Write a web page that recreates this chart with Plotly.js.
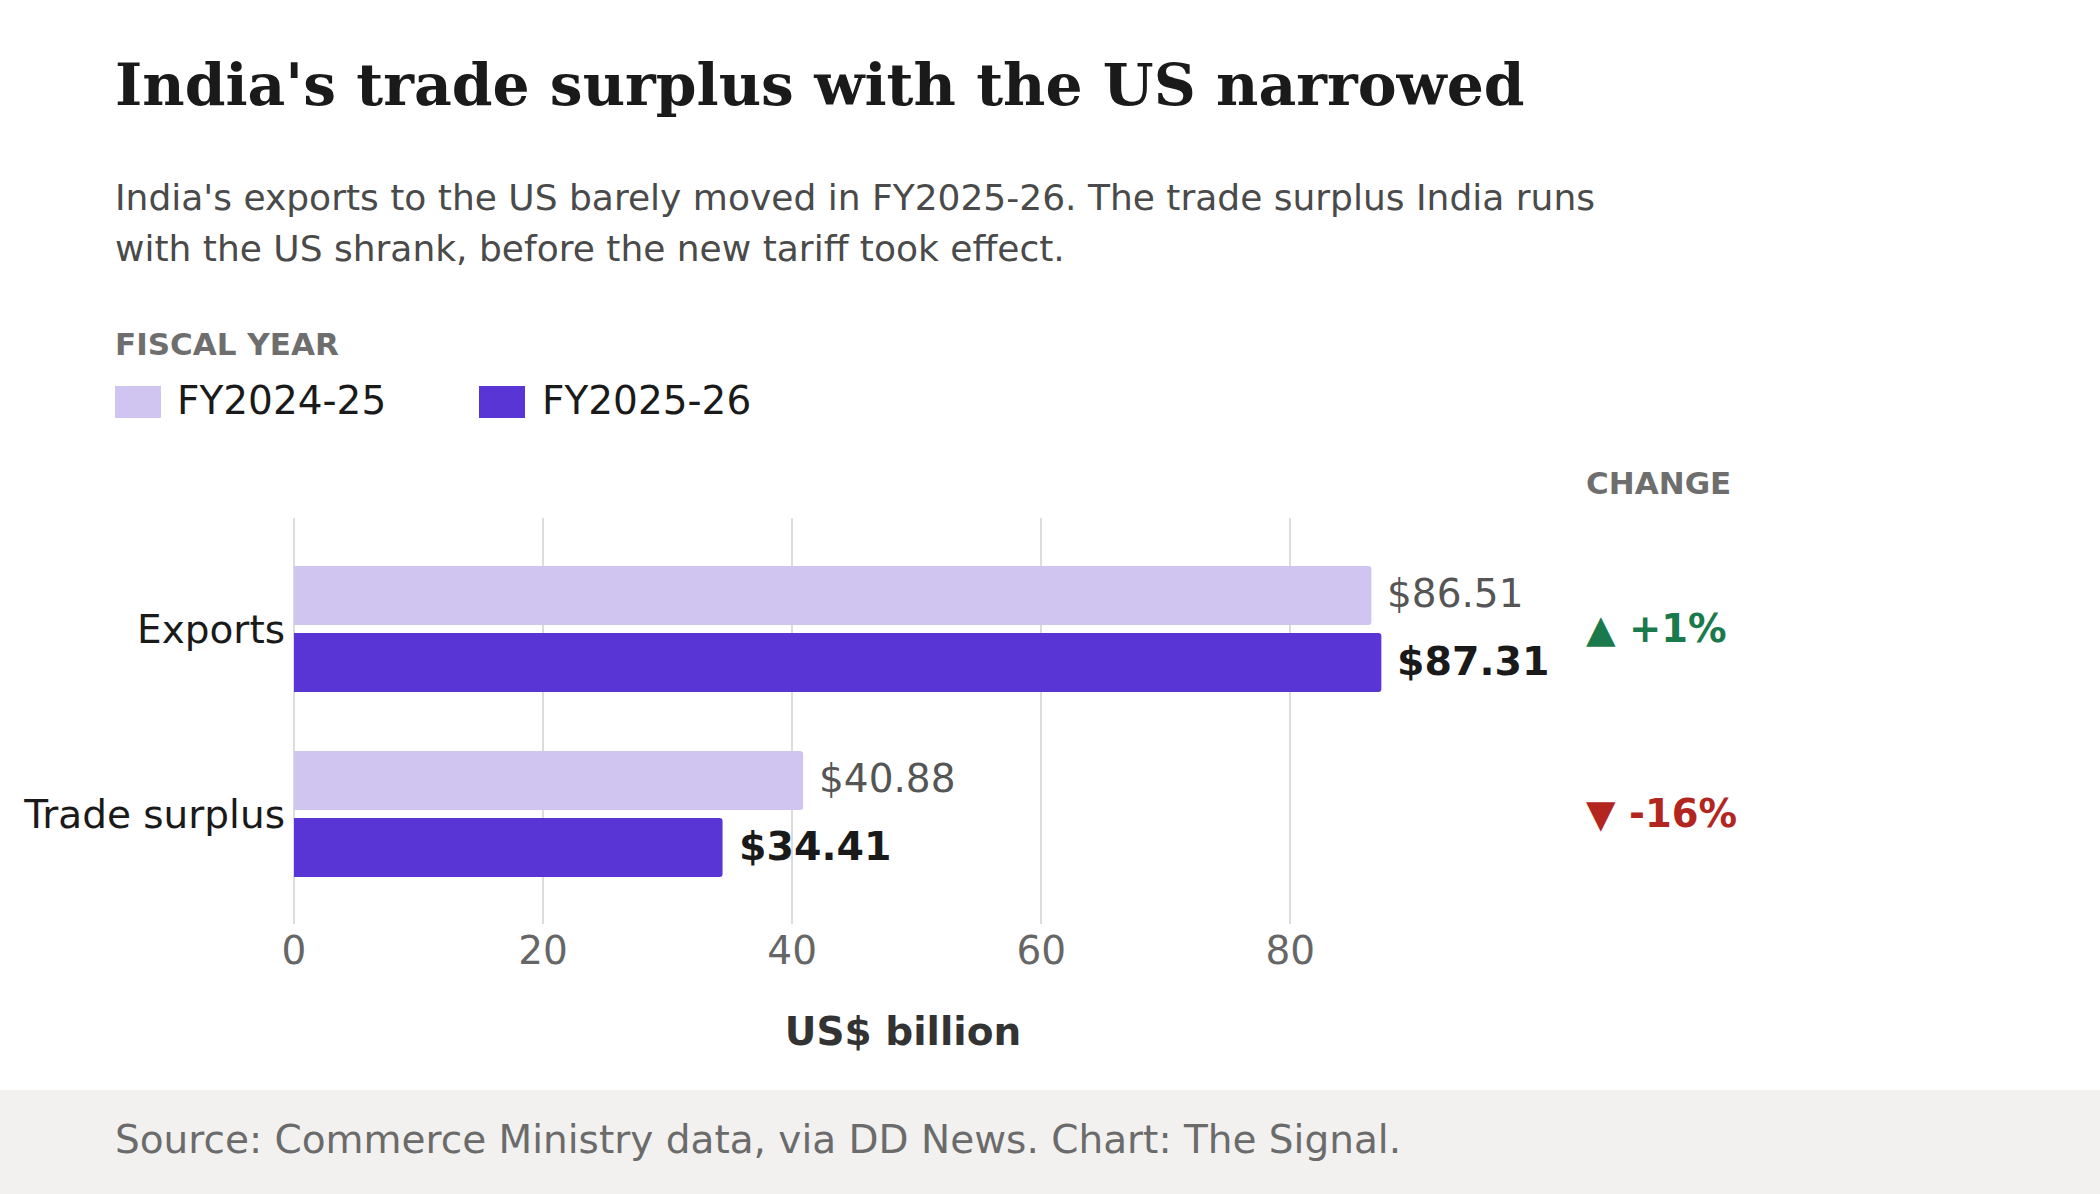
<!DOCTYPE html>
<html>
<head>
<meta charset="utf-8">
<script src="https://cdn.plot.ly/plotly-3.0.1.min.js"></script>
<style>html,body{margin:0;padding:0;background:#fff;}#chart{width:2100px;height:1194px;}</style>
</head>
<body>
<div id="chart"></div>
<script>
// ---- data ----
const categories = ["Exports", "Trade surplus"];
const seriesNames = ["FY2024-25", "FY2025-26"];
const fy2425 = [86.51, 40.88];
const fy2526 = [87.31, 34.41];
const tickVals = [0, 20, 40, 60, 80];
const tickText = ["0", "20", "40", "60", "80"];

// ---- style ----
const FONT = "DejaVu Sans, Verdana, sans-serif";
const LIGHT = "#d0c5f1";
const DARK = "#5a35d5";
const GREEN = "#1b7a4c";
const RED = "#b3261f";

// plot area in pixels
const L = 294, R = 1512, T = 518, B = 924;
const PX = px => (px - L) / (R - L);
const PY = py => (B - py) / (B - T);

const traces = [
  {type: "bar", orientation: "h", name: seriesNames[0], y: categories, x: fy2425,
   marker: {color: LIGHT}, hoverinfo: "skip"},
  {type: "bar", orientation: "h", name: seriesNames[1], y: categories, x: fy2526,
   marker: {color: DARK}, hoverinfo: "skip"}
];

const ann = [];
// subtitle
ann.push({xref: "paper", yref: "paper", x: PX(113), y: PY(197), xanchor: "left", yanchor: "middle", showarrow: false,
  text: "India's exports to the US barely moved in FY2025-26. The trade surplus India runs",
  font: {family: FONT, size: 36, color: "#4a4a4a"}});
ann.push({xref: "paper", yref: "paper", x: PX(113), y: PY(248), xanchor: "left", yanchor: "middle", showarrow: false,
  text: "with the US shrank, before the new tariff took effect.",
  font: {family: FONT, size: 36, color: "#4a4a4a"}});
// legend title + entries
ann.push({xref: "paper", yref: "paper", x: PX(113), y: PY(344), xanchor: "left", yanchor: "middle", showarrow: false,
  text: "<b>FISCAL YEAR</b>", font: {family: FONT, size: 31, color: "#6e6e6e"}});
ann.push({xref: "paper", yref: "paper", x: PX(175), y: PY(400), xanchor: "left", yanchor: "middle", showarrow: false,
  text: seriesNames[0], font: {family: FONT, size: 39, color: "#1a1a1a"}});
ann.push({xref: "paper", yref: "paper", x: PX(540), y: PY(400), xanchor: "left", yanchor: "middle", showarrow: false,
  text: seriesNames[1], font: {family: FONT, size: 39, color: "#1a1a1a"}});
// change column
ann.push({xref: "paper", yref: "paper", x: PX(1584), y: PY(483), xanchor: "left", yanchor: "middle", showarrow: false,
  text: "<b>CHANGE</b>", font: {family: FONT, size: 31, color: "#6e6e6e"}});
categories.forEach((c, i) => {
  const pct = Math.round((fy2526[i] - fy2425[i]) / fy2425[i] * 100);
  const up = pct >= 0;
  ann.push({xref: "paper", yref: "y", x: PX(1584), y: c, xanchor: "left", yanchor: "middle", showarrow: false,
    text: "<b>" + (up ? "▲ +" : "▼ ") + pct + "%</b>",
    font: {family: FONT, size: 38.5, color: up ? GREEN : RED}});
  // value labels
  ann.push({xref: "x", yref: "y", x: fy2425[i], y: c, xanchor: "left", yanchor: "middle", showarrow: false,
    xshift: 14, yshift: 35, text: "$" + fy2425[i].toFixed(2),
    font: {family: FONT, size: 39, color: "#555555"}});
  ann.push({xref: "x", yref: "y", x: fy2526[i], y: c, xanchor: "left", yanchor: "middle", showarrow: false,
    xshift: 14, yshift: -32, text: "<b>$" + fy2526[i].toFixed(2) + "</b>",
    font: {family: FONT, size: 39.5, color: "#1a1a1a"}});
});
// footer text
ann.push({xref: "paper", yref: "paper", x: PX(113), y: PY(1139), xanchor: "left", yanchor: "middle", showarrow: false,
  text: "Source: Commerce Ministry data, via DD News. Chart: The Signal.",
  font: {family: FONT, size: 39, color: "#6b6b6b"}});

const shapes = [
  {type: "rect", xref: "paper", yref: "paper", x0: PX(0), x1: PX(2100), y0: PY(1194), y1: PY(1090),
   fillcolor: "#f2f1ef", line: {width: 0}, layer: "below"},
  {type: "rect", xref: "paper", yref: "paper", x0: PX(115), x1: PX(161), y0: PY(418), y1: PY(386),
   fillcolor: LIGHT, line: {width: 0}},
  {type: "rect", xref: "paper", yref: "paper", x0: PX(479), x1: PX(525), y0: PY(418), y1: PY(386),
   fillcolor: DARK, line: {width: 0}}
];

const layout = {
  width: 2100, height: 1194,
  paper_bgcolor: "#ffffff", plot_bgcolor: "#ffffff",
  margin: {l: L, r: 2100 - R, t: T, b: 1194 - B, pad: 0},
  showlegend: false,
  barmode: "group", bargap: 0.276, bargroupgap: 0.12, barcornerradius: 3,
  title: {text: "<b>India's trade surplus with the US narrowed</b>",
    xref: "container", yref: "container", x: 115 / 2100, xanchor: "left",
    y: 1 - 85 / 1194, yanchor: "middle",
    font: {family: "DejaVu Serif, serif", size: 58.3, color: "#1a1a1a"}},
  xaxis: {range: [0, 97.8], tickmode: "array", tickvals: tickVals, ticktext: tickText,
    showgrid: true, gridcolor: "#dcdcdc", gridwidth: 2, zeroline: true, zerolinecolor: "#dcdcdc", zerolinewidth: 2,
    showline: false, ticks: "", fixedrange: true,
    tickfont: {family: FONT, size: 39, color: "#666666"},
    title: {text: "<b>US$ billion</b>", standoff: 45, font: {family: FONT, size: 39, color: "#333333"}}},
  yaxis: {type: "category", categoryorder: "array", categoryarray: categories,
    range: [1.595, -0.6], showgrid: false, zeroline: false, showline: false, ticks: "",
    ticklabelstandoff: 8, fixedrange: true,
    tickfont: {family: FONT, size: 39, color: "#1a1a1a"}},
  annotations: ann,
  shapes: shapes
};

Plotly.newPlot("chart", traces, layout, {displayModeBar: false, staticPlot: true});
</script>
</body>
</html>
